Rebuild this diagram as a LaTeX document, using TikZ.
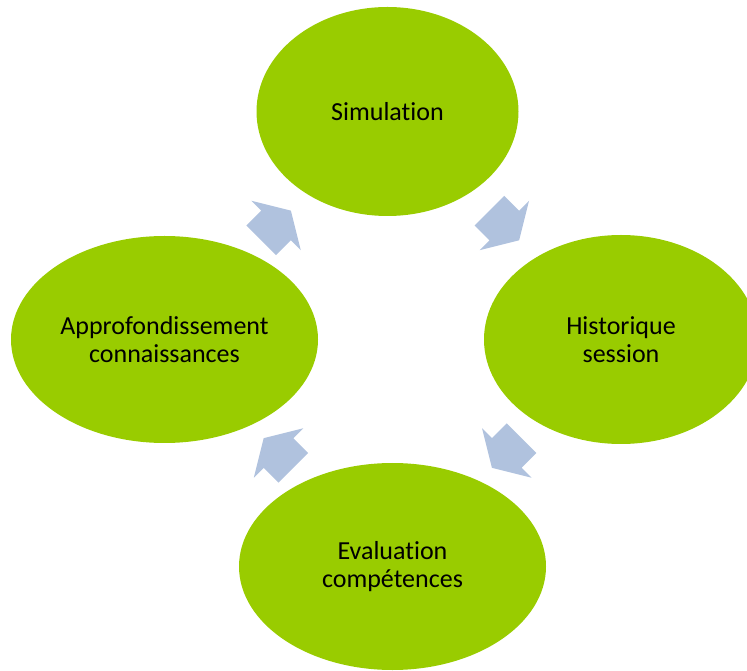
\documentclass[tikz,border=0pt]{standalone}
\usepackage{fontspec}
\setmainfont{Carlito}[Ligatures={NoCommon,NoContextual},RawFeature={-liga;-clig;-calt}]
\usepackage{tikz}
\usetikzlibrary{calc,positioning,shapes.geometric}
\definecolor{leafgreen}{RGB}{153,204,0}
\definecolor{arrowblue}{RGB}{176,194,222}
\tikzset{%
	stage/.style     = {ellipse, fill=leafgreen, inner sep=0pt, text centered, align=center, font=\fontsize{26}{28}\selectfont},
	smallstage/.style = {stage, minimum width=262pt, minimum height=209pt},
	widestage/.style  = {stage, minimum width=307pt, minimum height=207pt},
	cyclearrow/.pic  = {\fill[arrowblue] (-21,21) -- (0,21) -- (0,35) -- (21,0) -- (0,-35) -- (0,-21) -- (-21,-21) -- cycle;},
}

\begin{document}
\begin{tikzpicture}[x=1pt,y=1pt]
	\useasboundingbox (0,0) rectangle (747,670);
	\node[smallstage] (simu)  at (387.5,558.5) {Simulation};
	\node[smallstage, minimum width=274pt] (histo) at (621,330.5) {Historique\\session};
	\node[widestage]  (eval)  at (392.5,103.5) {Evaluation\\compétences};
	\node[widestage]  (appro) at (164.5,330.5) {Approfondissement\\connaissances};
	\pic[rotate=-45]  at ($(simu.center)!.5!(histo.center)$) {cyclearrow};
	\pic[rotate=-135] at ($(histo.center)!.5!(eval.center)$) {cyclearrow};
	\pic[rotate=135]  at ($(eval.center)!.5!(appro.center)$) {cyclearrow};
	\pic[rotate=45]   at ($(appro.center)!.5!(simu.center)$) {cyclearrow};
\end{tikzpicture}
\end{document}
